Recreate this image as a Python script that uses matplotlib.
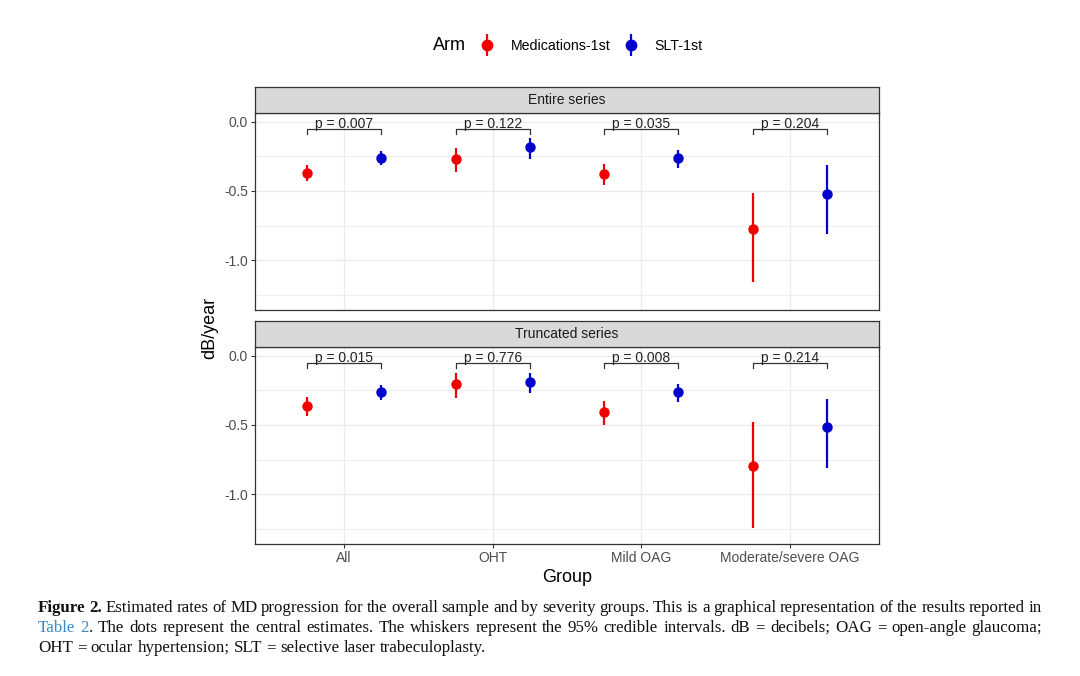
import matplotlib
matplotlib.use("Agg")
import matplotlib.pyplot as plt
import numpy as np
from matplotlib.ticker import FixedLocator, NullFormatter
from matplotlib.container import ErrorbarContainer
from matplotlib.legend_handler import HandlerErrorbar

plt.rcParams["font.family"] = ["Liberation Sans", "DejaVu Sans"]
plt.rcParams["axes.unicode_minus"] = False

# --------------------------------------------------
# data
# --------------------------------------------------
groups = ["All", "OHT", "Mild OAG", "Moderate/severe OAG"]
arms = ["Medications-1st", "SLT-1st"]

entire_med = [-0.367, -0.268, -0.374, -0.778]
entire_med_lo = [-0.428, -0.365, -0.459, -1.159]
entire_med_hi = [-0.314, -0.191, -0.302, -0.512]
entire_slt = [-0.259, -0.179, -0.263, -0.522]
entire_slt_lo = [-0.314, -0.266, -0.336, -0.812]
entire_slt_hi = [-0.213, -0.118, -0.200, -0.314]

trunc_med = [-0.361, -0.204, -0.406, -0.798]
trunc_med_lo = [-0.433, -0.308, -0.500, -1.248]
trunc_med_hi = [-0.300, -0.125, -0.329, -0.478]
trunc_slt = [-0.260, -0.185, -0.264, -0.517]
trunc_slt_lo = [-0.317, -0.269, -0.337, -0.810]
trunc_slt_hi = [-0.211, -0.125, -0.204, -0.310]

p_entire = ["0.007", "0.122", "0.035", "0.204"]
p_trunc = ["0.015", "0.776", "0.008", "0.214"]

panel_titles = ["Entire series", "Truncated series"]
y_ticks = [0.0, -0.5, -1.0]
y_ticklabels = ["0.0", "-0.5", "-1.0"]
y_minor = [-0.25, -0.75, -1.25]

RED = "#F00000"
BLUE = "#0000CC"
GRID = "#EBEBEB"
BORDER = "#333333"
TICKTXT = "#4D4D4D"

W, H = 1080, 676
fig = plt.figure(figsize=(W / 100, H / 100), dpi=100)


def fx(px):
    return px / W


def fy(py):
    return 1 - py / H


panel_left, panel_right = 255, 879
panels = [(113, 310), (347, 544)]
strip_h = 26

series = [
    (entire_med, entire_med_lo, entire_med_hi, entire_slt, entire_slt_lo, entire_slt_hi, p_entire),
    (trunc_med, trunc_med_lo, trunc_med_hi, trunc_slt, trunc_slt_lo, trunc_slt_hi, p_trunc),
]

x = np.arange(1, len(groups) + 1)
dodge = 0.25
handles = []

for i, ((top, bot), data, title) in enumerate(zip(panels, series, panel_titles)):
    med, med_lo, med_hi, slt, slt_lo, slt_hi, pvals = data
    ax = fig.add_axes([fx(panel_left), fy(bot), fx(panel_right - panel_left), (bot - top) / H])
    ax.set_xlim(0.4, 4.6)
    ax.set_ylim(-1.362, 0.065)

    # grid
    ax.yaxis.set_major_locator(FixedLocator(y_ticks))
    ax.yaxis.set_minor_locator(FixedLocator(y_minor))
    ax.set_yticklabels(y_ticklabels)
    ax.yaxis.set_minor_formatter(NullFormatter())
    ax.set_xticks(x)
    ax.grid(True, which="major", color=GRID, lw=1.0, zorder=0)
    ax.grid(True, which="minor", axis="y", color=GRID, lw=0.6, zorder=0)
    ax.set_axisbelow(True)
    ax.tick_params(which="minor", length=0)
    ax.tick_params(which="major", length=3, width=0.8, color=BORDER,
                   labelsize=10, labelcolor=TICKTXT, pad=2)
    for s in ax.spines.values():
        s.set_color(BORDER)
        s.set_linewidth(0.9)

    if i == 0:
        ax.set_xticklabels([])
        ax.tick_params(axis="x", length=0)
    else:
        ax.set_xticklabels(groups)

    med_err = [np.array(med) - np.array(med_lo), np.array(med_hi) - np.array(med)]
    slt_err = [np.array(slt) - np.array(slt_lo), np.array(slt_hi) - np.array(slt)]
    h1 = ax.errorbar(x - dodge, med, yerr=med_err, fmt="o", color=RED, ms=6.5,
                     elinewidth=1.6, capsize=0, zorder=3)
    h2 = ax.errorbar(x + dodge, slt, yerr=slt_err, fmt="o", color=BLUE, ms=6.5,
                     elinewidth=1.6, capsize=0, zorder=3)
    if i == 0:
        handles = [h1, h2]

    # significance brackets
    yb, yt = -0.053, -0.085
    for xi, p in zip(x, pvals):
        ax.plot([xi - dodge, xi - dodge, xi + dodge, xi + dodge], [yt, yb, yb, yt],
                color="#333333", lw=0.9, zorder=2)
        ax.text(xi, yb + 0.008, f"p = {p}", ha="center", va="baseline", fontsize=10,
                color="#222222")

    # strip
    sax = fig.add_axes([fx(panel_left), fy(top), fx(panel_right - panel_left), strip_h / H])
    sax.set_facecolor("#D9D9D9")
    sax.set_xticks([])
    sax.set_yticks([])
    for s in sax.spines.values():
        s.set_color(BORDER)
        s.set_linewidth(0.9)
    sax.text(0.5, 0.5, title, ha="center", va="center", fontsize=10, color="#1A1A1A",
             transform=sax.transAxes)

# axis titles
fig.text(fx(210), fy(328), "dB/year", rotation=90, ha="center", va="center", fontsize=13)
fig.text(fx(567), fy(577), "Group", ha="center", va="center", fontsize=13)

# legend
fig.text(fx(433), fy(46), "Arm", ha="left", va="center", fontsize=13)
leg = fig.legend(handles, arms, loc="center left", bbox_to_anchor=(fx(478), fy(46)),
                 ncol=2, frameon=False, fontsize=10.2, handlelength=1.3, handletextpad=1.0,
                 columnspacing=0.8, borderaxespad=0, borderpad=0, markerscale=1.15,
                 handler_map={ErrorbarContainer: HandlerErrorbar(yerr_size=0.75)})

# --------------------------------------------------
# caption, justified like the journal layout
# --------------------------------------------------
cap_font = ["Liberation Serif", "DejaVu Serif"]
cap_size = 12.2
link_blue = "#3B8BC2"
normal = dict(color="#111111")
bold = dict(color="#111111", fontweight="bold")
blue = dict(color=link_blue)

line1 = [[("Figure", bold)], [("2.", bold)]] + [
    [(w, normal)] for w in ("Estimated rates of MD progression for the overall sample and by "
                            "severity groups. This is a graphical representation of the "
                            "results reported in").split()]
line2 = [[("Table", blue)], [("2", blue), (".", normal)]] + [
    [(w, normal)] for w in ("The dots represent the central estimates. The whiskers represent "
                            "the 95% credible intervals. dB = decibels; OAG = open-angle "
                            "glaucoma;").split()]
line3 = [[(w, normal)] for w in
         "OHT = ocular hypertension; SLT = selective laser trabeculoplasty.".split()]

renderer = fig.canvas.get_renderer()


def place_line(tokens, baseline, x0, x1, justify):
    items = []
    total = 0.0
    for tok in tokens:
        segs = []
        tw = 0.0
        for txt, props in tok:
            t = fig.text(0, fy(baseline), txt, fontsize=cap_size, family=cap_font,
                         va="baseline", ha="left", **props)
            w = t.get_window_extent(renderer).width
            segs.append((t, w))
            tw += w
        items.append(segs)
        total += tw
    if justify:
        gap = (x1 - x0 - total) / (len(tokens) - 1)
    else:
        gap = cap_size * 100 / 72 * 0.25
    xpos = x0
    for segs in items:
        for t, w in segs:
            t.set_x(fx(xpos))
            xpos += w
        xpos += gap


place_line(line1, 612, 38, 1042, True)
place_line(line2, 632, 38, 1042, True)
place_line(line3, 652, 38, 1042, False)

fig.savefig("out.png", dpi=100)
